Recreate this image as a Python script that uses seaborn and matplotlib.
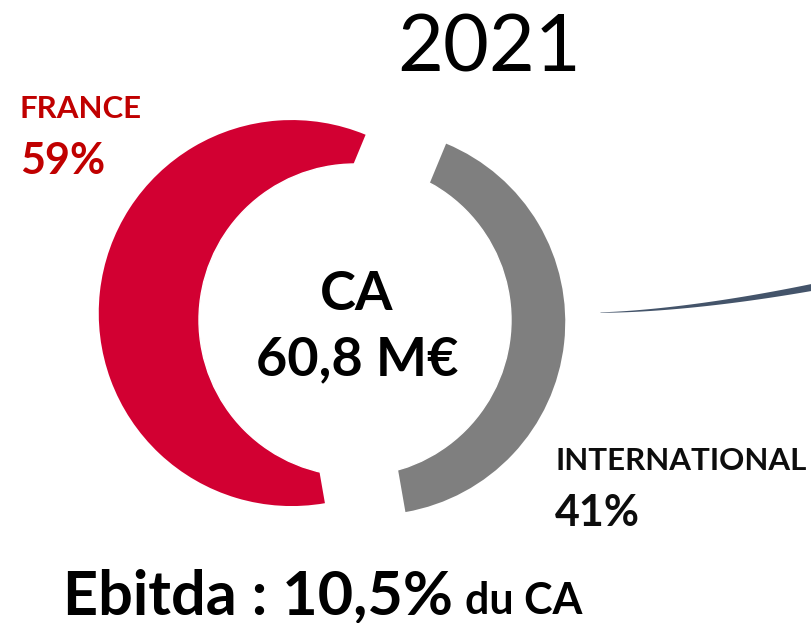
import numpy as np
import seaborn as sns
import matplotlib.pyplot as plt
from matplotlib.patches import Circle

# data
labels = ["FRANCE", "INTERNATIONAL"]
shares = [59, 41]
year = "2021"
revenue = "60,8 M€"
ebitda = "10,5%"

sns.set_theme(style="white")
plt.rcParams['font.family'] = ['Lato', 'DejaVu Sans']

slice_colors = ["#D20032", "#7F7F7F"]
label_colors = ["#C00000", "#0D0D0D"]

W, H = 811, 623
fig = plt.figure(figsize=(W / 100, H / 100), dpi=100)
ax = fig.add_axes([0, 0, 1, 1])

# exploded pie (explode is in data units here), white disc on top makes the ring
ax.pie(shares, colors=slice_colors, startangle=67.5, counterclock=True,
       explode=[40.5, 40.5], radius=193, center=(332, H - 317.5),
       wedgeprops=dict(linewidth=0))
ax.add_patch(Circle((355, H - 320), 156, color="white", zorder=5))

ax.set_xlim(0, W)
ax.set_ylim(0, H)
ax.set_aspect("equal")
ax.axis("off")

# titles and labels
ax.text(489, H - 72, year, fontsize=57, ha="center", va="baseline", color="black")
ax.text(357, H - 310, "CA", fontsize=39, fontweight="bold", ha="center",
        va="baseline", color="black", zorder=6)
ax.text(357, H - 375, revenue, fontsize=39, fontweight="bold", ha="center",
        va="baseline", color="black", zorder=6)

ax.text(20, H - 118, labels[0], fontsize=22.5, fontweight="bold", color=label_colors[0],
        va="baseline")
ax.text(20, H - 174, f"{shares[0]}%", fontsize=31, fontweight="bold",
        color=label_colors[0], va="baseline")
ax.text(555, H - 470, labels[1], fontsize=22.5, fontweight="bold", color=label_colors[1],
        va="baseline")
ax.text(555, H - 526, f"{shares[1]}%", fontsize=31, fontweight="bold",
        color=label_colors[1], va="baseline")

# bottom line, two sizes
t1 = ax.text(63, H - 614, f"Ebitda : {ebitda}", fontsize=44, fontweight="bold",
             color="black", va="baseline")
fig.canvas.draw()
bb = t1.get_window_extent().transformed(ax.transData.inverted())
ax.text(bb.x1 + 12, H - 614, "du CA", fontsize=31, fontweight="bold",
        color="black", va="baseline")

# thin swoosh on the right
xs = np.linspace(600, W, 80)
tt = (xs - 600) / (W - 600)
mid = H - (312 - 25 * tt ** 1.6)
half = 0.2 + 3.3 * tt
ax.fill_between(xs, mid - half, mid + half, color="#44546A", linewidth=0)

fig.savefig("out.png", dpi=100)
